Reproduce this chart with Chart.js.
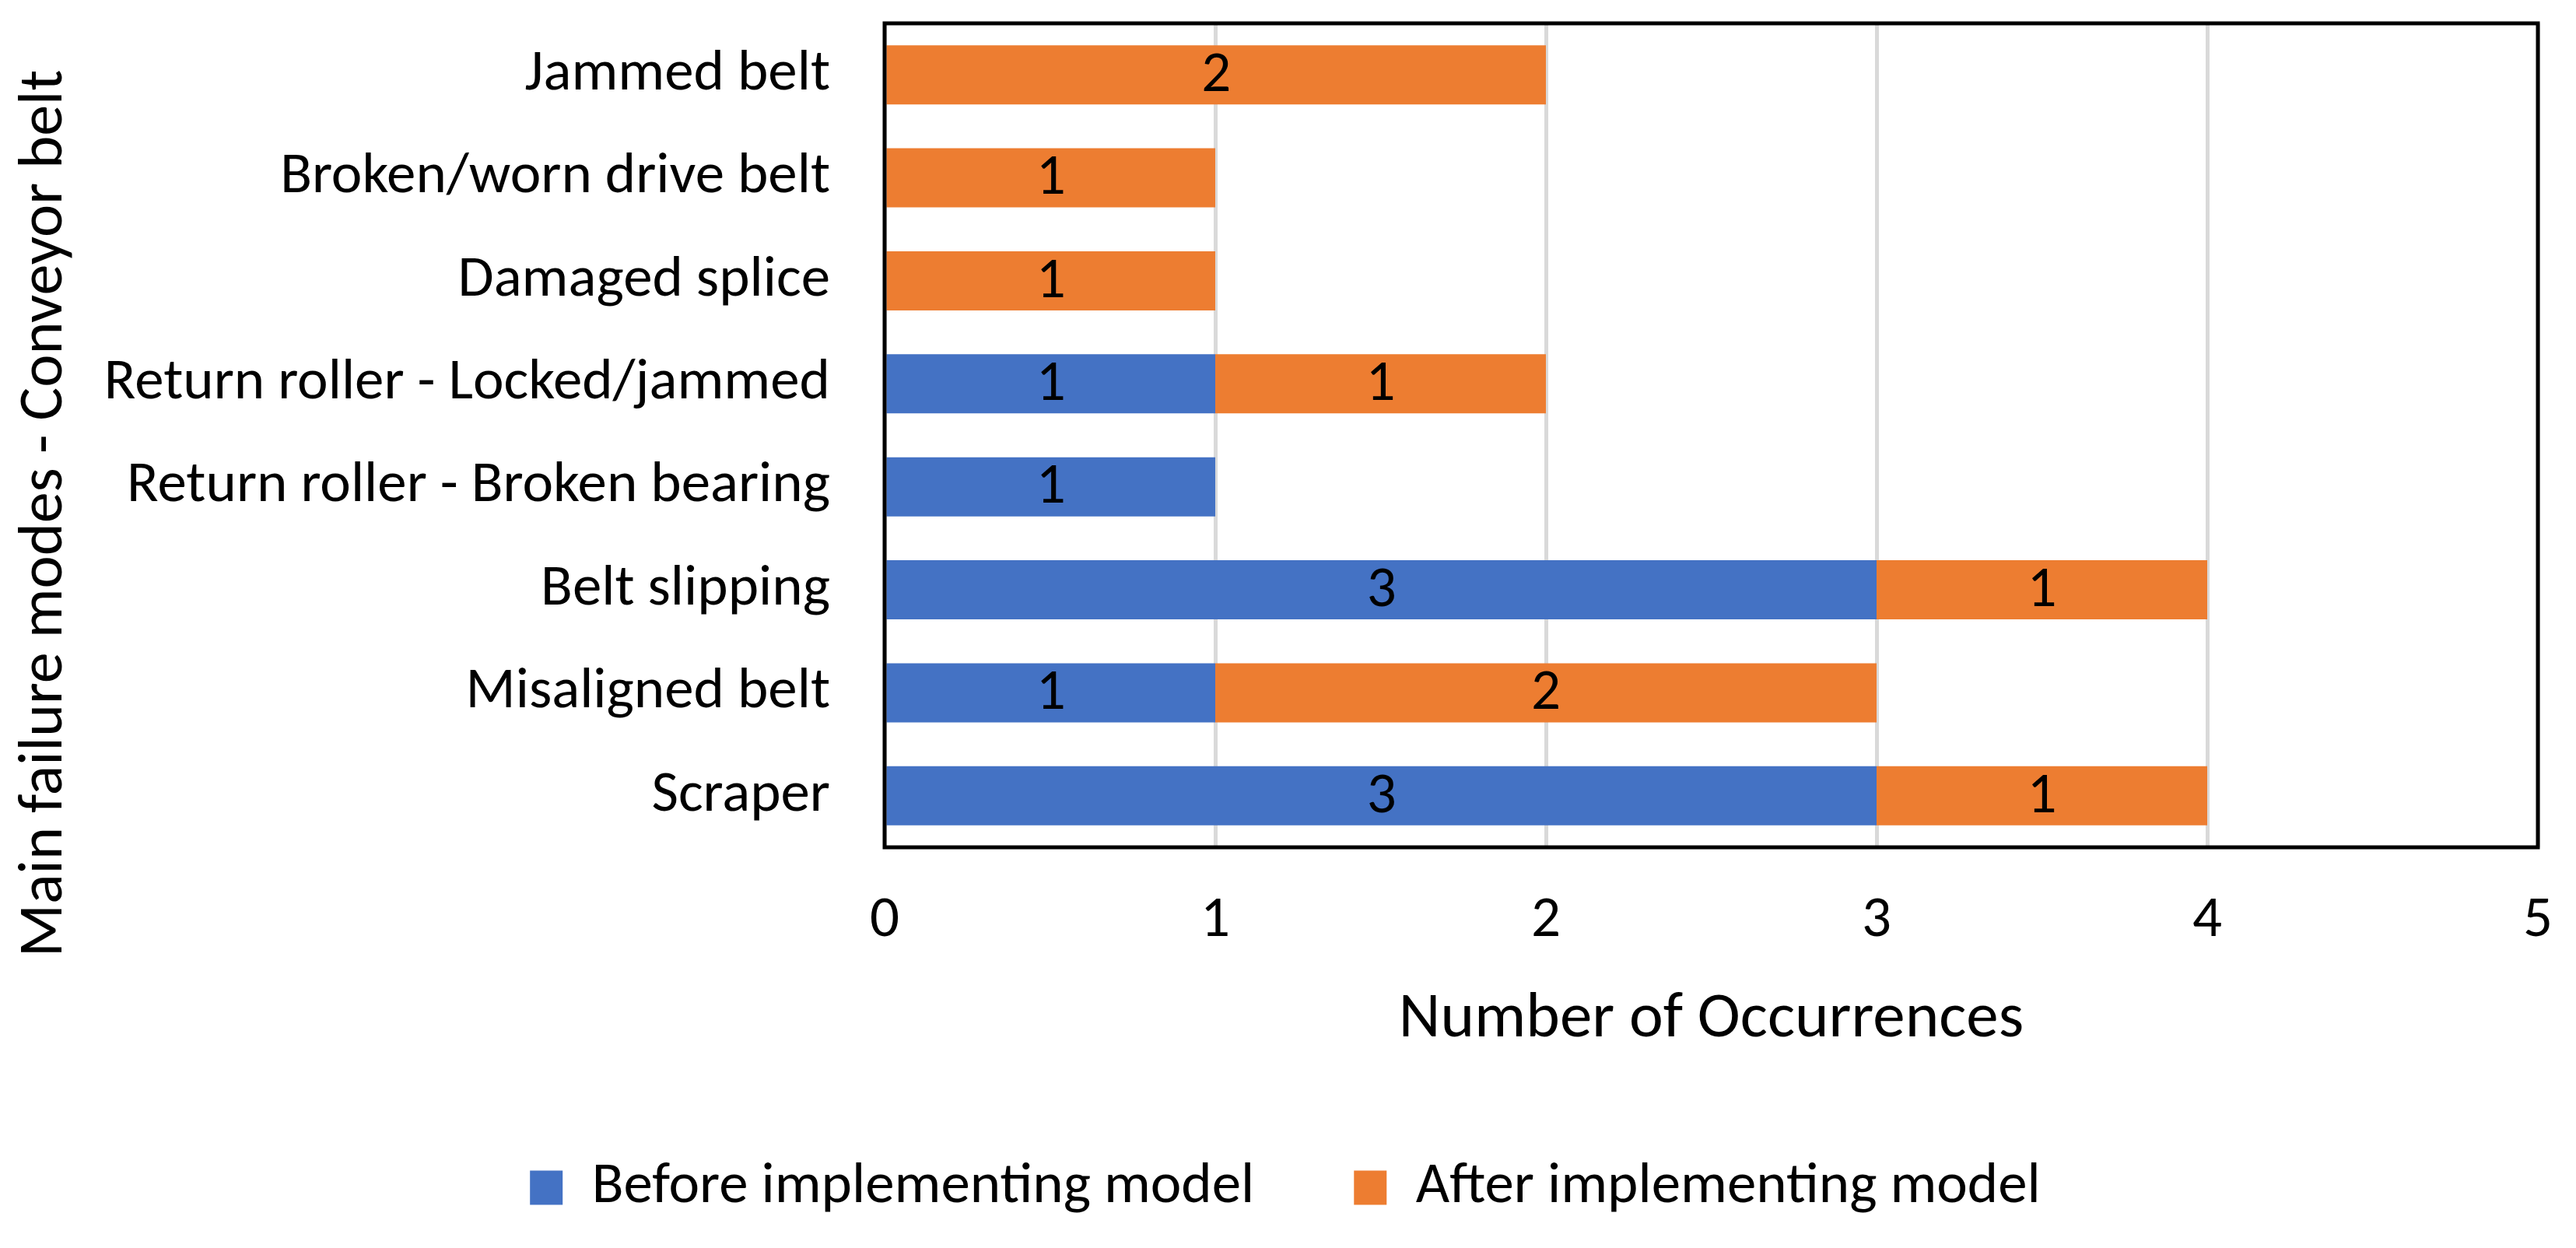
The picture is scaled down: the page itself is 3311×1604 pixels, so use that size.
<!DOCTYPE html>
<html><head><meta charset="utf-8">
<script src="https://cdn.jsdelivr.net/npm/chart.js@4"></script>
<style>html,body{margin:0;padding:0;background:#fff;} canvas{display:block;}</style>
</head><body>
<canvas id="c" width="3311" height="1604"></canvas>
<script>
const categories = [
  "Jammed belt",
  "Broken/worn drive belt",
  "Damaged splice",
  "Return roller - Locked/jammed",
  "Return roller - Broken bearing",
  "Belt slipping",
  "Misaligned belt",
  "Scraper"
];
const beforeValues = [0, 0, 0, 1, 1, 3, 1, 3];
const afterValues  = [2, 1, 1, 1, 0, 1, 2, 1];
const xTicks = [0, 1, 2, 3, 4, 5];
const seriesNames = ["Before implementing model", "After implementing model"];
const xTitle = "Number of Occurrences";
const yTitle = "Main failure modes - Conveyor belt";

const FONT = "Carlito, Lato, sans-serif";
const BLUE = "#4472C4", ORANGE = "#ED7D31";

const valueLabels = {
  id: 'valueLabels',
  afterDatasetsDraw(chart) {
    const ctx = chart.ctx;
    ctx.save();
    ctx.font = "75px " + FONT;
    ctx.fillStyle = "#000";
    ctx.textAlign = "center";
    ctx.textBaseline = "middle";
    chart.data.datasets.forEach((ds, di) => {
      const meta = chart.getDatasetMeta(di);
      meta.data.forEach((el, i) => {
        const v = ds.data[i];
        if (!v) return;
        ctx.fillText(String(v), (el.x + el.base) / 2, el.y + 2);
      });
    });
    ctx.restore();
  }
};

const frame = {
  id: 'frame',
  afterDatasetsDraw(chart) {
    const a = chart.chartArea, ctx = chart.ctx;
    ctx.save();
    ctx.strokeStyle = "#000";
    ctx.lineWidth = 5;
    ctx.strokeRect(a.left, a.top, a.right - a.left, a.bottom - a.top);
    ctx.restore();
  }
};

const yTitlePlugin = {
  id: 'yTitlePlugin',
  afterDraw(chart) {
    const ctx = chart.ctx;
    ctx.save();
    ctx.translate(59, 660);
    ctx.rotate(-Math.PI / 2);
    ctx.font = "80px " + FONT;
    ctx.fillStyle = "#000";
    ctx.textAlign = "center";
    ctx.textBaseline = "middle";
    ctx.fillText(yTitle, 0, 0);
    ctx.restore();
  }
};

new Chart(document.getElementById('c'), {
  type: 'bar',
  data: {
    labels: categories,
    datasets: [
      { label: seriesNames[0], data: beforeValues, backgroundColor: BLUE, categoryPercentage: 1.0, barPercentage: 0.575 },
      { label: seriesNames[1], data: afterValues, backgroundColor: ORANGE, categoryPercentage: 1.0, barPercentage: 0.575 }
    ]
  },
  options: {
    indexAxis: 'y',
    responsive: false,
    animation: false,
    devicePixelRatio: 1,
    layout: { padding: { top: 30, right: 49, left: 42, bottom: 30 } },
    scales: {
      x: {
        stacked: true,
        min: xTicks[0], max: xTicks[xTicks.length - 1],
        ticks: { stepSize: 1, color: "#000", font: { family: FONT, size: 75 }, padding: 50 },
        grid: { color: "#D9D9D9", lineWidth: 5, drawTicks: false },
        border: { display: false },
        title: { display: true, text: xTitle, color: "#000", font: { family: FONT, size: 83 }, padding: 0 },
        afterFit(scale) { scale.height = 272; scale.paddingRight = 0; scale.paddingLeft = 0; }
      },
      y: {
        stacked: true,
        ticks: { color: "#000", font: { family: FONT, size: 75 }, padding: 70 },
        grid: { display: false, drawTicks: false },
        border: { display: false },
        afterFit(scale) { scale.width = 1095; scale.paddingTop = 0; scale.paddingBottom = 0; }
      }
    },
    plugins: {
      legend: {
        position: 'bottom',
        labels: { boxWidth: 42, boxHeight: 44, padding: 128, color: "#000", font: { family: FONT, size: 75 } }
      },
      tooltip: { enabled: false }
    }
  },
  plugins: [valueLabels, frame, yTitlePlugin]
});
</script>
</body></html>
